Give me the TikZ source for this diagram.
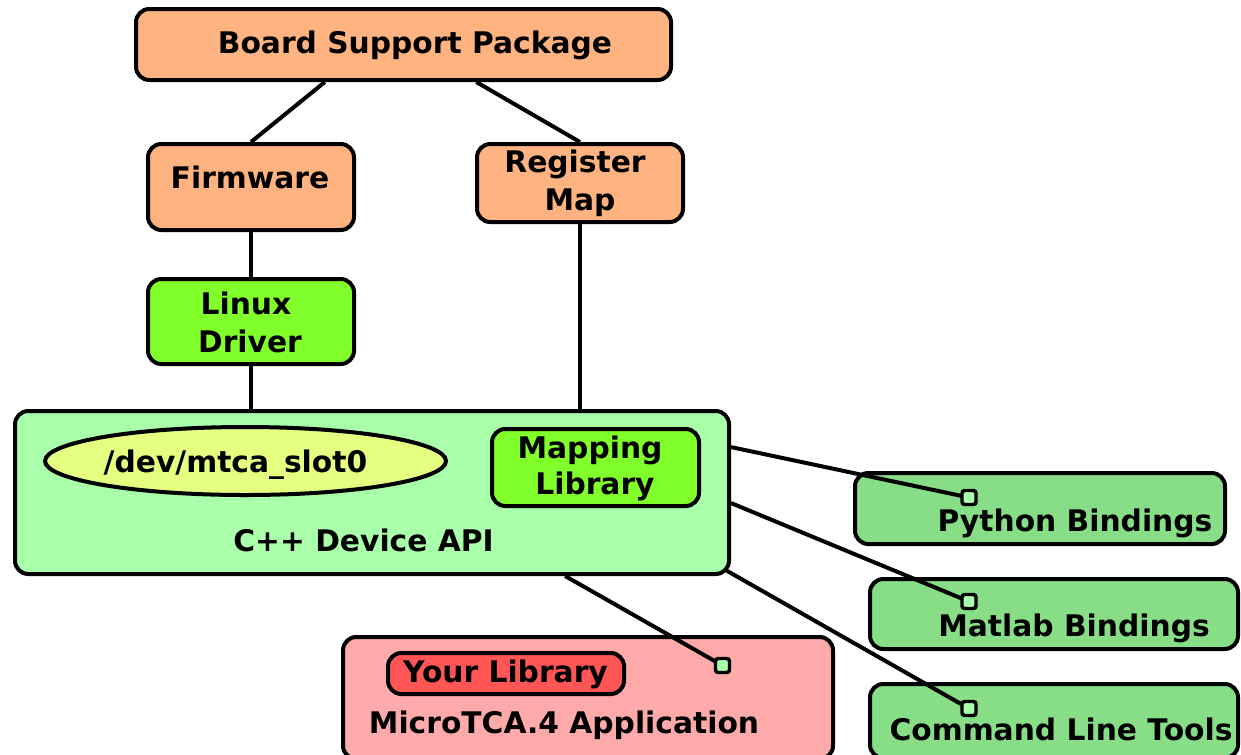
\documentclass[tikz,border=0pt]{standalone}
\usepackage{fontspec}
\setmainfont{DejaVu Sans}
\usetikzlibrary{calc,shapes.geometric}
\pgfdeclarelayer{back}
\pgfdeclarelayer{mid}
\pgfsetlayers{back,mid,main}
\definecolor{peach}{HTML}{FFB380}
\definecolor{brightgreen}{HTML}{80FF2A}
\definecolor{apigreen}{HTML}{AAFFAA}
\definecolor{devyellow}{HTML}{E5FF80}
\definecolor{bindgreen}{HTML}{87DE87}
\definecolor{apppink}{HTML}{FFAAAA}
\definecolor{libred}{HTML}{FF5555}
\def\pxu{0.75pt}
\tikzset{
  box/.style args={#1x#2}{draw=black, line width=3pt, rounded corners=10pt, inner sep=0pt,
    minimum width=#1*\pxu, minimum height=#2*\pxu},
  txt/.style={font=\bfseries\fontsize{22.3}{28.5}\selectfont, anchor=base, inner sep=0pt},
  conn/.style={draw=black, line width=3pt},
  sq/.style={draw=black, line width=2.6pt, fill=apigreen, rounded corners=2pt, minimum size=14*\pxu, inner sep=0pt},
}
\begin{document}
\begin{tikzpicture}[x=0.75pt,y=-0.75pt]
\useasboundingbox (0,0) rectangle (1241,754);
\clip (0,0) rectangle (1241,754);
% top boxes
\node[box=535x71, fill=peach] (bsp) at (403.5,44.5) {};
\node[box=206x86, fill=peach] (fw) at (251,187) {};
\node[box=206x78, fill=peach] (rm) at (580,183) {};
\node[box=206x85, fill=brightgreen] (ld) at (251,321.5) {};
% API group
\node[box=714x163, fill=apigreen] (api) at (372,492.5) {};
\node[ellipse, draw=black, line width=3pt, fill=devyellow, inner sep=0pt, minimum width=401*\pxu, minimum height=68*\pxu] (dev) at (245.5,461) {};
\node[box=207x77, fill=brightgreen] (ml) at (595.5,467.5) {};
% side boxes
\begin{pgfonlayer}{back}
\node[box=370x71, fill=bindgreen] (py) at (1040,508.5) {};
\node[box=368x70, fill=bindgreen] (mat) at (1054,614) {};
\node[box=368x74, fill=bindgreen] (clt) at (1054,721) {};
\node[box=490x122, fill=apppink] (app) at (588,698) {};
\node[box=236x41, fill=libred] (yl) at (506,673.5) {};
\end{pgfonlayer}
% connector squares
\node[sq] (sqpy) at (969,497.5) {};
\node[sq] (sqmat) at (969,601.5) {};
\node[sq] (sqclt) at (969,708.5) {};
\node[sq] (sqapp) at (722.5,665.5) {};
% connectors
\begin{pgfonlayer}{mid}
\draw[conn] ($(bsp.south west)!0.354!(bsp.south east)$) -- (fw.north);
\draw[conn] ($(bsp.south west)!0.635!(bsp.south east)$) -- (rm.north);
\draw[conn] (fw.south) -- (ld.north);
\draw[conn] (ld.south) -- (ld.south |- dev.north);
\draw[conn] (rm.south) -- (rm.south |- ml.north);
\draw[conn] ($(api.north east)!0.228!(api.south east)$) -- (sqpy.center);
\draw[conn] ($(api.north east)!0.563!(api.south east)$) -- (sqmat.center);
\draw[conn] ($(api.south east)+(-31,-20.5)$) -- (sqclt.center);
\draw[conn] ($(api.south west)!0.769!(api.south east)$) -- (sqapp.center);
\end{pgfonlayer}
% texts
\node[txt] (bspT) at (415,53) {Board Support Package};
\node[txt] (fwT) at (250,188) {Firmware};
\node[txt] (rmT1) at (575,172) {Register};
\node[txt] (rmT2) at (580,210) {Map};
\node[txt] (ldT1) at (246,314) {Linux};
\node[txt] (ldT2) at (250,352) {Driver};
\node[txt] (devT) at (235.5,472) {/dev/mtca\_slot0};
\node[txt] (mlT1) at (590,458) {Mapping};
\node[txt] (mlT2) at (595,494) {Library};
\node[txt] (apiT) at (363.5,551) {C++ Device API};
\node[txt] (pyT) at (1075,531) {Python Bindings};
\node[txt] (matT) at (1074,636) {Matlab Bindings};
\node[txt] (cltT) at (1061,740) {Command Line Tools};
\node[txt] (ylT) at (505.5,682) {Your Library};
\node[txt] (appT) at (564,733) {MicroTCA.4 Application};
\end{tikzpicture}
\end{document}
